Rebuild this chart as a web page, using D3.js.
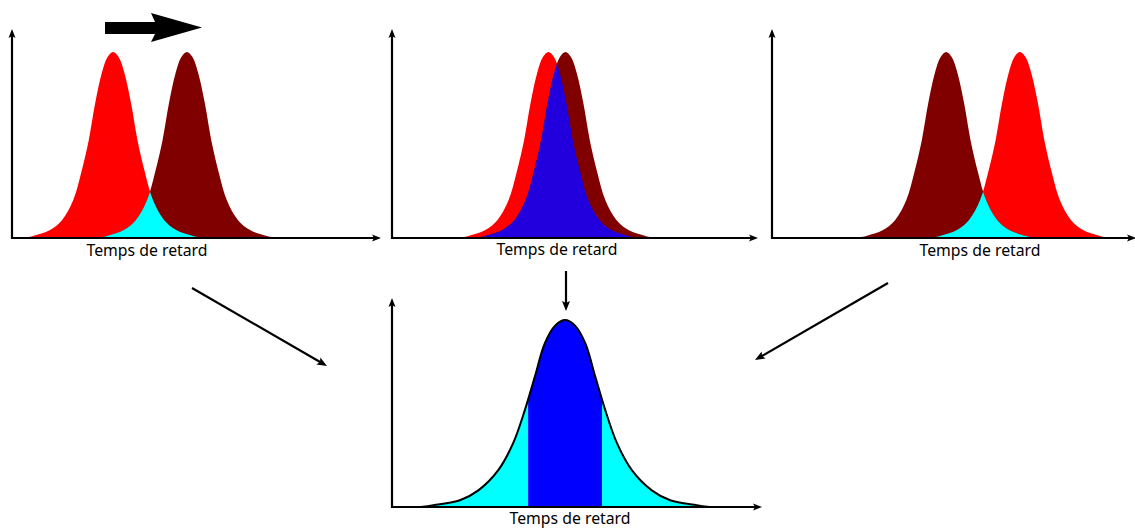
<!DOCTYPE html>
<html>
<head>
<meta charset="utf-8">
<script src="https://cdn.jsdelivr.net/npm/d3@7"></script>
<style>
  html, body { margin: 0; padding: 0; background: #fff; }
  svg { display: block; }
  text { font-family: "Noto Sans", "Open Sans", sans-serif; }
</style>
</head>
<body>
<svg id="chart" width="1135" height="529"></svg>
<script>
// ---------- data ----------
const panels = ["gauche", "centre", "droite"];
const axisLabel = "Temps de retard";
// peak positions (x units 0..100 along each top axis)
const shiftedPeaks = [27.4, 42.4, 67.2];     // red (shifted) peak
const referencePeaks = [47.4, 47.0, 47.2];   // dark red (reference) peak
// half-profile of one peak: offset from centre (x units) -> relative height
const peakOffsets = [0, 1.5, 3.1, 4.9, 6.6, 8.7, 10.8, 13.8, 17.1, 21.7, 24.4];
const peakHeights = [1, 0.973, 0.884, 0.72, 0.526, 0.347, 0.204, 0.097, 0.043, 0.011, 0];
// summed (bottom) profile
const sumPeak = 46.9;
const sumOffsets = [0, 2.7, 5.5, 8.2, 10.9, 14.1, 18.1, 23.5, 28.5, 35.7, 39.2];
const sumHeights = [1, 0.97, 0.875, 0.696, 0.518, 0.34, 0.197, 0.089, 0.036, 0.01, 0];
const bandHalfWidth = 10;

// ---------- colours ----------
const colShift = "#FF0000", colRef = "#800000", colOverlap = "#00FFFF",
      colOverlapCentre = "#2200DD", colBand = "#0000FF";
const overlapColours = [colOverlap, colOverlapCentre, colOverlap];

// ---------- layout ----------
const svg = d3.select("#chart");
const topPanels = [
  { x0: 12, x1: 381, base: 238, peakY: 52, top: 29, labelX: 147, labelY: 256 },
  { x0: 392, x1: 758, base: 238, peakY: 52, top: 29, labelX: 557, labelY: 255 },
  { x0: 772, x1: 1136, base: 238, peakY: 52, top: 29, labelX: 980, labelY: 256 }
];
const bottomPanel = { x0: 392, x1: 762, base: 507, peakY: 320, top: 298, labelX: 570, labelY: 524 };
const UNIT_PX = 3.69;

function mirrored(offsets, heights) {
  const pts = [];
  for (let i = offsets.length - 1; i > 0; i--) pts.push([-offsets[i], heights[i]]);
  for (let i = 0; i < offsets.length; i++) pts.push([offsets[i], heights[i]]);
  return pts;
}
const peakProfile = mirrored(peakOffsets, peakHeights);
const sumProfile = mirrored(sumOffsets, sumHeights);
const curve = d3.curveCatmullRom.alpha(0.5);

const defs = svg.append("defs");

function drawAxes(g, p) {
  const sw = 2.2;
  g.append("line").attr("x1", p.x0).attr("x2", p.x0).attr("y1", p.base + 1).attr("y2", p.top + 6)
    .attr("stroke", "#000").attr("stroke-width", sw);
  g.append("line").attr("x1", p.x0 - 1).attr("x2", p.x1 - 6).attr("y1", p.base).attr("y2", p.base)
    .attr("stroke", "#000").attr("stroke-width", sw);
  g.append("path").attr("d", `M${p.x0},${p.top} L${p.x0 - 3.5},${p.top + 9} L${p.x0},${p.top + 7} L${p.x0 + 3.5},${p.top + 9} Z`)
    .attr("fill", "#000");
  g.append("path").attr("d", `M${p.x1},${p.base} L${p.x1 - 9},${p.base - 3.5} L${p.x1 - 7},${p.base} L${p.x1 - 9},${p.base + 3.5} Z`)
    .attr("fill", "#000");
  g.append("text").attr("x", p.labelX).attr("y", p.labelY).attr("text-anchor", "middle")
    .attr("font-size", 15.8).attr("fill", "#000").text(axisLabel);
}

topPanels.forEach((p, i) => {
  const g = svg.append("g");
  const x = d3.scaleLinear().domain([0, 100]).range([p.x0, p.x0 + 100 * UNIT_PX]);
  const y = d3.scaleLinear().domain([0, 1]).range([p.base, p.peakY]);
  const area = c => d3.area().x(d => x(c + d[0])).y0(y(0)).y1(d => y(Math.max(0, d[1]))).curve(curve)(peakProfile);

  const cid = "clipRef" + i;
  defs.append("clipPath").attr("id", cid).append("path").attr("d", area(referencePeaks[i]));

  g.append("path").attr("d", area(shiftedPeaks[i])).attr("fill", colShift);
  g.append("path").attr("d", area(referencePeaks[i])).attr("fill", colRef);
  g.append("path").attr("d", area(shiftedPeaks[i])).attr("fill", overlapColours[i])
    .attr("clip-path", `url(#${cid})`);
  drawAxes(g, p);
});

// bottom panel
(function () {
  const p = bottomPanel;
  const g = svg.append("g");
  const x = d3.scaleLinear().domain([0, 100]).range([p.x0, p.x0 + 100 * UNIT_PX]);
  const y = d3.scaleLinear().domain([0, 1]).range([p.base, p.peakY]);
  const areaGen = d3.area().x(d => x(sumPeak + d[0])).y0(y(0)).y1(d => y(d[1])).curve(curve);
  const lineGen = d3.line().x(d => x(sumPeak + d[0])).y(d => y(d[1])).curve(curve);
  defs.append("clipPath").attr("id", "bandClip").append("rect")
    .attr("x", x(sumPeak - bandHalfWidth)).attr("y", p.top)
    .attr("width", x(sumPeak + bandHalfWidth) - x(sumPeak - bandHalfWidth)).attr("height", p.base - p.top);
  defs.append("clipPath").attr("id", "aboveBase").append("rect")
    .attr("x", p.x0).attr("y", p.top).attr("width", p.x1 - p.x0).attr("height", p.base - p.top);
  const cg = g.append("g").attr("clip-path", "url(#aboveBase)");
  cg.append("path").attr("d", areaGen(sumProfile)).attr("fill", colOverlap);
  cg.append("path").attr("d", areaGen(sumProfile)).attr("fill", colBand).attr("clip-path", "url(#bandClip)");
  cg.append("path").attr("d", lineGen(sumProfile)).attr("fill", "none").attr("stroke", "#000").attr("stroke-width", 2);
  drawAxes(g, p);
})();

// ---------- annotation arrows ----------
function arrow(x1, y1, x2, y2, sw, hl, hw) {
  const a = Math.atan2(y2 - y1, x2 - x1);
  const bx = x2 - hl * Math.cos(a), by = y2 - hl * Math.sin(a);
  const nx = -Math.sin(a), ny = Math.cos(a);
  svg.append("line").attr("x1", x1).attr("y1", y1)
    .attr("x2", x2 - (hl * 0.7) * Math.cos(a)).attr("y2", y2 - (hl * 0.7) * Math.sin(a))
    .attr("stroke", "#000").attr("stroke-width", sw);
  const bx2 = x2 - hl * 0.8 * Math.cos(a), by2 = y2 - hl * 0.8 * Math.sin(a);
  svg.append("path").attr("d",
    `M${x2},${y2} L${bx + nx * hw},${by + ny * hw} L${bx2},${by2} L${bx - nx * hw},${by - ny * hw} Z`)
    .attr("fill", "#000");
}
arrow(192, 288, 327, 366, 2.2, 10, 4);
arrow(888, 283, 755, 360, 2.2, 10, 4);
arrow(566, 271, 566, 311, 2.2, 10, 4);

// big shift arrow (top)
svg.append("path")
  .attr("d", "M105,22 L155,22 L151,13 L202,27.5 L151,42 L155,34 L105,34 Z")
  .attr("fill", "#000");
</script>
</body>
</html>
